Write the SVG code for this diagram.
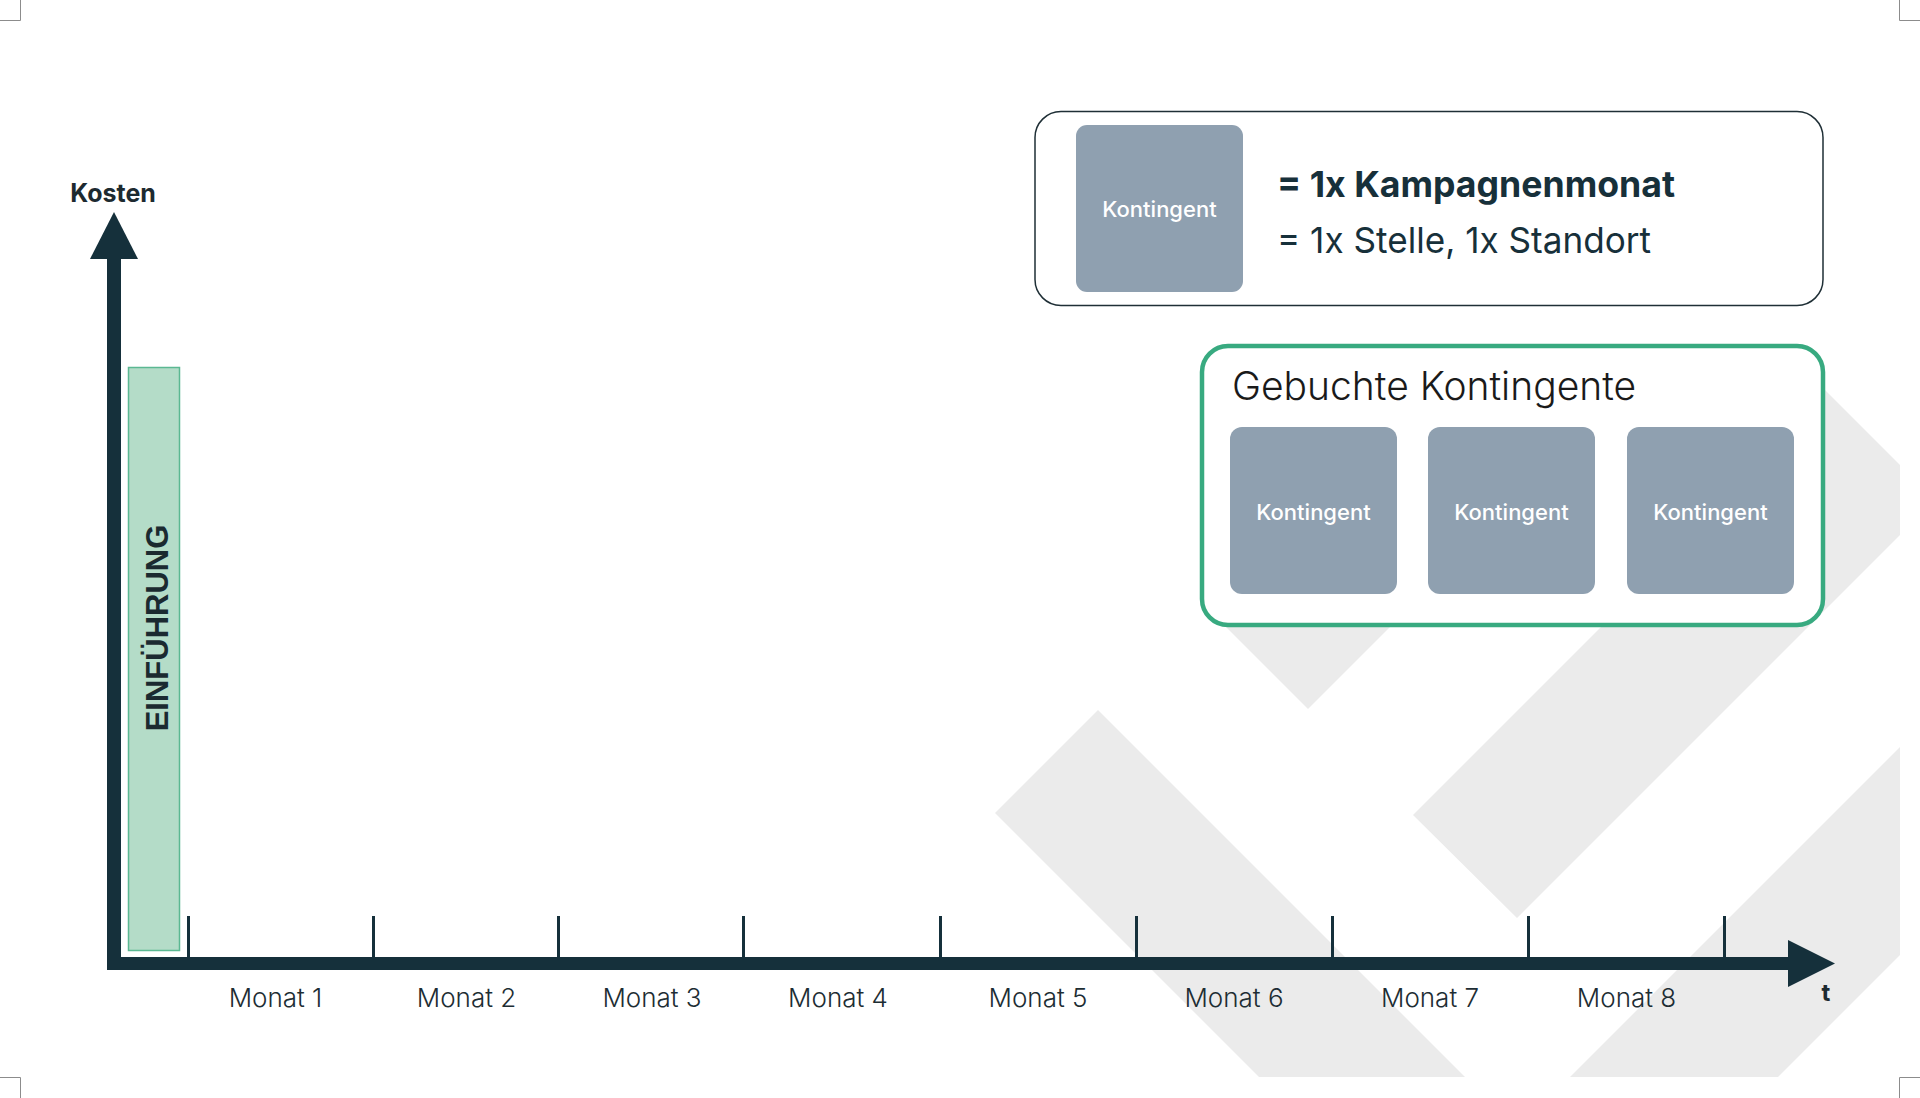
<svg xmlns="http://www.w3.org/2000/svg" width="1920" height="1098" viewBox="0 0 1920 1098">
  <style>
    .bg { fill: #ebebeb; }
    .crop { stroke: #8c8c8c; stroke-width: 1; fill: none; }
    .axis { fill: #15303b; }
    .tick { stroke: #15303b; stroke-width: 3; }
    .month { font-family: Inter, "Noto Sans", sans-serif; font-weight: 300; font-size: 26px; fill: #1d2d33; text-anchor: middle; }
    .axislabel { font-family: Inter, "Noto Sans", sans-serif; font-weight: 700; fill: #1d2a30; text-anchor: middle; }
    .kbox { fill: #8fa0b0; }
    .ktext { font-family: Inter, "Noto Sans", sans-serif; font-weight: 500; font-size: 22px; fill: #ffffff; text-anchor: middle; }
  </style>

  <!-- background pattern -->
  <g id="background">
    <polygon class="bg" points="995,813 1098,710 1465,1077 1259,1077"/>
    <polygon class="bg" points="1308,709 1208,609 1308,520 1408,609"/>
    <polygon class="bg" points="1413,815 1517,918 1900,535 1900,465 1807.5,372.5 1704,476 1728,500"/>
    <polygon class="bg" points="1570,1077 1778,1077 1900,955 1900,747"/>
  </g>

  <!-- crop marks -->
  <g id="cropmarks">
    <path class="crop" d="M20.5,0 V20.5 H0"/>
    <path class="crop" d="M1899.5,0 V20.5 H1920"/>
    <path class="crop" d="M20.5,1098 V1077.5 H0"/>
    <path class="crop" d="M1899.5,1098 V1077.5 H1920"/>
  </g>

  <!-- introduction bar -->
  <g id="einfuehrung">
    <rect x="128.5" y="367.5" width="51" height="583" fill="#b4dcc8" stroke="#5bb892" stroke-width="1.5"/>
    <text transform="translate(168,628) rotate(-90)" font-family="'Liberation Sans', Arial, sans-serif" font-weight="700" font-size="31" fill="#1b2a30" text-anchor="middle">EINFÜHRUNG</text>
  </g>

  <!-- axes -->
  <g id="connectors">
    <rect class="axis" x="107" y="256" width="14" height="714"/>
    <polygon class="axis" points="114,212 138,259 90,259"/>
    <rect class="axis" x="107" y="957" width="1684" height="13"/>
    <polygon class="axis" points="1788,940 1835,963.5 1788,987"/>
    <line class="tick" x1="188.5" y1="916" x2="188.5" y2="958"/>
    <line class="tick" x1="373.5" y1="916" x2="373.5" y2="958"/>
    <line class="tick" x1="558.5" y1="916" x2="558.5" y2="958"/>
    <line class="tick" x1="743.5" y1="916" x2="743.5" y2="958"/>
    <line class="tick" x1="940.5" y1="916" x2="940.5" y2="958"/>
    <line class="tick" x1="1136.5" y1="916" x2="1136.5" y2="958"/>
    <line class="tick" x1="1332.5" y1="916" x2="1332.5" y2="958"/>
    <line class="tick" x1="1528.5" y1="916" x2="1528.5" y2="958"/>
    <line class="tick" x1="1724.5" y1="916" x2="1724.5" y2="958"/>
  </g>

  <g id="axis-labels">
    <text class="axislabel" x="113" y="202" font-size="25">Kosten</text>
    <text class="axislabel" x="1826" y="1001" font-size="24">t</text>
    <text class="month" x="275.5" y="1007">Monat 1</text>
    <text class="month" x="466.5" y="1007">Monat 2</text>
    <text class="month" x="652" y="1007">Monat 3</text>
    <text class="month" x="838" y="1007">Monat 4</text>
    <text class="month" x="1038" y="1007">Monat 5</text>
    <text class="month" x="1234" y="1007">Monat 6</text>
    <text class="month" x="1430" y="1007">Monat 7</text>
    <text class="month" x="1626.5" y="1007">Monat 8</text>
  </g>

  <!-- legend -->
  <g id="legend">
    <rect x="1035" y="111.5" width="788" height="194" rx="26" fill="#ffffff" stroke="#1f2f36" stroke-width="1.5"/>
    <rect class="kbox" x="1076" y="125" width="167" height="167" rx="11"/>
    <text class="ktext" x="1159.5" y="217">Kontingent</text>
    <text x="1277" y="197" font-family="Inter, 'Noto Sans', sans-serif" font-weight="700" font-size="36" fill="#17303a" textLength="398" lengthAdjust="spacingAndGlyphs">= 1x Kampagnenmonat</text>
    <text x="1277" y="253" font-family="Inter, 'Noto Sans', sans-serif" font-weight="400" font-size="36" fill="#17303a" textLength="374" lengthAdjust="spacingAndGlyphs">= 1x Stelle, 1x Standort</text>
  </g>

  <!-- booked contingents -->
  <g id="gebuchte-kontingente">
    <rect x="1202" y="346" width="621" height="279" rx="26" fill="#ffffff" stroke="#38aa80" stroke-width="4.5"/>
    <text x="1232" y="400" font-family="Inter, 'Noto Sans', sans-serif" font-weight="300" font-size="39" fill="#1a1a1a">Gebuchte Kontingente</text>
  </g>
  <g id="kontingent-1">
    <rect class="kbox" x="1230" y="427" width="167" height="167" rx="12"/>
    <text class="ktext" x="1313.5" y="520">Kontingent</text>
  </g>
  <g id="kontingent-2">
    <rect class="kbox" x="1428" y="427" width="167" height="167" rx="12"/>
    <text class="ktext" x="1511.5" y="520">Kontingent</text>
  </g>
  <g id="kontingent-3">
    <rect class="kbox" x="1627" y="427" width="167" height="167" rx="12"/>
    <text class="ktext" x="1710.5" y="520">Kontingent</text>
  </g>
</svg>
